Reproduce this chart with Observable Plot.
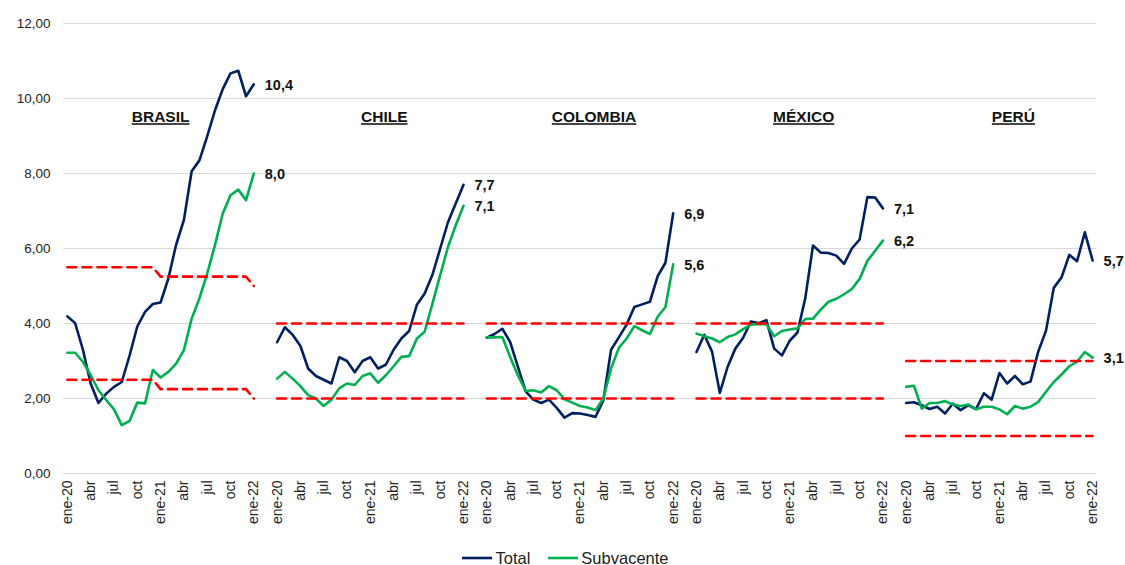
<!DOCTYPE html>
<html>
<head>
<meta charset="utf-8">
<script src="https://cdn.jsdelivr.net/npm/d3@7"></script>
<script src="https://cdn.jsdelivr.net/npm/@observablehq/plot@0.6"></script>
<style>
  html, body { margin: 0; padding: 0; background: #fff; }
  body { width: 1125px; height: 565px; overflow: hidden; font-family: "Liberation Sans", Arial, sans-serif; }
  #legend { display: flex; justify-content: center; align-items: center; gap: 18px; font-size: 16.5px; color: #222; height: 22px; margin-top: 7px; margin-left: 6px; }
  #legend span.item { display: flex; align-items: center; }
  #legend svg { margin-right: 3px; }
</style>
</head>
<body>
<div id="chart"></div>
<div id="legend"></div>
<script>
// ---- Data ----
const countries = ["BRASIL", "CHILE", "COLOMBIA", "MÉXICO", "PERÚ"];
const tickLabels = ["ene-20", "abr", "jul", "oct", "ene-21", "abr", "jul", "oct", "ene-22"];
const seriesNames = ["Total", "Subvacente"];

// Monthly, ene-20 .. ene-22 (25 values)
const brasilTotal = [4.19, 4.01, 3.30, 2.40, 1.88, 2.13, 2.31, 2.44, 3.14, 3.92, 4.31, 4.52, 4.56, 5.20, 6.10, 6.76, 8.06, 8.35, 8.99, 9.68, 10.25, 10.67, 10.74, 10.06, 10.38];
const brasilSub   = [3.22, 3.22, 2.98, 2.62, 2.22, 1.96, 1.71, 1.29, 1.40, 1.89, 1.87, 2.76, 2.56, 2.71, 2.93, 3.29, 4.13, 4.67, 5.33, 6.09, 6.93, 7.42, 7.57, 7.29, 8.00];
const chileTotal  = [3.5, 3.9, 3.7, 3.4, 2.8, 2.6, 2.5, 2.4, 3.1, 3.0, 2.7, 3.0, 3.1, 2.8, 2.9, 3.3, 3.6, 3.8, 4.5, 4.8, 5.3, 6.0, 6.7, 7.2, 7.7];
const chileSub    = [2.53, 2.71, 2.53, 2.33, 2.09, 2.00, 1.80, 1.97, 2.27, 2.40, 2.36, 2.60, 2.67, 2.42, 2.62, 2.86, 3.11, 3.13, 3.60, 3.78, 4.53, 5.29, 6.04, 6.62, 7.14];
const colombiaTotal = [3.62, 3.72, 3.86, 3.51, 2.85, 2.19, 1.97, 1.88, 1.97, 1.75, 1.49, 1.61, 1.60, 1.56, 1.51, 1.95, 3.30, 3.63, 3.97, 4.44, 4.51, 4.58, 5.26, 5.62, 6.94];
const colombiaSub   = [3.63, 3.63, 3.64, 3.11, 2.62, 2.20, 2.22, 2.16, 2.33, 2.22, 1.98, 1.89, 1.80, 1.76, 1.69, 2.00, 2.80, 3.35, 3.60, 3.93, 3.82, 3.72, 4.18, 4.44, 5.58];
const mexicoTotal = [3.24, 3.70, 3.25, 2.15, 2.84, 3.33, 3.62, 4.05, 4.01, 4.09, 3.33, 3.15, 3.54, 3.76, 4.67, 6.08, 5.89, 5.88, 5.81, 5.59, 6.00, 6.24, 7.37, 7.36, 7.07];
const mexicoSub   = [3.73, 3.66, 3.60, 3.50, 3.64, 3.71, 3.85, 3.97, 3.99, 3.98, 3.66, 3.80, 3.84, 3.87, 4.12, 4.13, 4.37, 4.58, 4.66, 4.78, 4.92, 5.19, 5.67, 5.94, 6.21];
const peruTotal = [1.88, 1.90, 1.82, 1.72, 1.78, 1.60, 1.86, 1.69, 1.82, 1.72, 2.14, 1.97, 2.68, 2.40, 2.60, 2.38, 2.45, 3.25, 3.81, 4.95, 5.23, 5.83, 5.66, 6.43, 5.68];
const peruSub   = [2.31, 2.34, 1.73, 1.88, 1.88, 1.93, 1.84, 1.80, 1.84, 1.71, 1.78, 1.78, 1.71, 1.58, 1.80, 1.73, 1.78, 1.91, 2.18, 2.44, 2.64, 2.86, 2.98, 3.24, 3.09];

// Target ranges by year (2020, 2021, 2022)
const brasilTargetLow  = [2.5, 2.25, 2.0];
const brasilTargetHigh = [5.5, 5.25, 5.0];
const chileTargetLow = [2, 2, 2],    chileTargetHigh = [4, 4, 4];
const colombiaTargetLow = [2, 2, 2], colombiaTargetHigh = [4, 4, 4];
const mexicoTargetLow = [2, 2, 2],   mexicoTargetHigh = [4, 4, 4];
const peruTargetLow = [1, 1, 1],     peruTargetHigh = [3, 3, 3];

const yTicks = [0, 2, 4, 6, 8, 10, 12];

// ---- Build tables ----
const totals = [brasilTotal, chileTotal, colombiaTotal, mexicoTotal, peruTotal];
const subs = [brasilSub, chileSub, colombiaSub, mexicoSub, peruSub];
const lows = [brasilTargetLow, chileTargetLow, colombiaTargetLow, mexicoTargetLow, peruTargetLow];
const highs = [brasilTargetHigh, chileTargetHigh, colombiaTargetHigh, mexicoTargetHigh, peruTargetHigh];
const STRIDE = 27; // 25 months + 2 empty categories between panels

const rows = [];
const targets = [];
countries.forEach((c, p) => {
  totals[p].forEach((v, i) => rows.push({country: c, series: "Total", x: p * STRIDE + i, value: v}));
  subs[p].forEach((v, i) => rows.push({country: c, series: "Subvacente", x: p * STRIDE + i, value: v}));
  for (let i = 0; i < 25; i++) {
    const yr = Math.floor(i / 12);
    targets.push({country: c, bound: "low", x: p * STRIDE + i, value: lows[p][yr]});
    targets.push({country: c, bound: "high", x: p * STRIDE + i, value: highs[p][yr]});
  }
});
const lastRows = rows.filter(d => (d.x % STRIDE) === 24);
const titles = countries.map((c, p) => ({country: c, x: p * STRIDE + (p === 0 ? 12 : 13.8)}));

const xTicks = [];
countries.forEach((c, p) => tickLabels.forEach((t, k) => xTicks.push(p * STRIDE + 3 * k)));

const NAVY = "#002060", GREEN = "#00b050", RED = "#ff0000";
const comma = s => s.replace(".", ",");

const plot = Plot.plot({
  width: 1125,
  height: 540,
  marginLeft: 63,
  marginRight: 29,
  marginTop: 23,
  marginBottom: 67,
  style: {fontFamily: "'Liberation Sans', Arial, sans-serif", fontSize: "13px", color: "#222", background: "#fff"},
  x: {domain: [-0.5, 132.5], axis: null},
  y: {domain: [0, 12], axis: null},
  marks: [
    Plot.gridY(yTicks, {stroke: "#d9d9d9", strokeOpacity: 1, strokeWidth: 1}),
    Plot.axisY({ticks: yTicks, tickSize: 0, tickPadding: 13, tickFormat: d => comma(d3.format(".2f")(d)), fontSize: 13.5, label: null}),
    Plot.axisX({ticks: xTicks, tickSize: 0, tickPadding: 7, tickRotate: -90, tickFormat: d => tickLabels[(d % STRIDE) / 3], fontSize: 14, label: null}),
    Plot.line(rows.filter(d => d.series === "Total"), {x: "x", y: "value", z: "country", stroke: NAVY, strokeWidth: 2.6}),
    Plot.line(rows.filter(d => d.series === "Subvacente"), {x: "x", y: "value", z: "country", stroke: GREEN, strokeWidth: 2.6}),
    Plot.line(targets, {x: "x", y: "value", z: d => d.country + d.bound, stroke: RED, strokeWidth: 2.6, strokeDasharray: "9,6"}),
    Plot.text(lastRows, {x: "x", y: "value", text: d => comma(d3.format(".1f")(d.value)), textAnchor: "start", dx: 11, dy: 1, fontWeight: "bold", fontSize: 14.5, fill: "#111"}),
    Plot.text(titles, {x: "x", y: 9.5, text: "country", fontWeight: "bold", fontSize: 15.5, fill: "#111"})
  ]
});
document.getElementById("chart").appendChild(plot);

// underline panel titles
d3.select(plot).selectAll("text")
  .filter(function () { return countries.includes(this.textContent); })
  .style("text-decoration", "underline");

// Legend
const legend = document.getElementById("legend");
[[seriesNames[0], NAVY], [seriesNames[1], GREEN]].forEach(([name, col]) => {
  const item = document.createElement("span");
  item.className = "item";
  item.innerHTML = `<svg width="30" height="10"><line x1="0" x2="30" y1="5" y2="5" stroke="${col}" stroke-width="2.6"/></svg><span>${name}</span>`;
  legend.appendChild(item);
});
</script>
</body>
</html>
